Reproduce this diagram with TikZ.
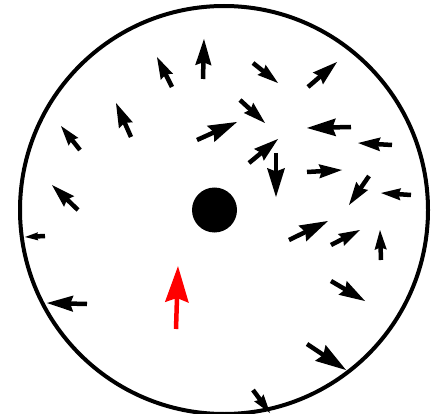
\documentclass[tikz,border=0pt]{standalone}
\usetikzlibrary{arrows.meta}

\begin{document}
\begin{tikzpicture}[
  x=1pt, y=-1pt,
  rim/.style={draw, line width=4pt},
  vec/.style={line width=4.5pt, black},
  probe/.style={line width=4.5pt, red, -{Stealth[length=36pt, width=23pt, inset=4pt]}}
]
\useasboundingbox (0,0) rectangle (436,414);

% boundary and obstacle
\draw[rim] (224,210) circle[radius=204];
\fill (214.5,210) circle[radius=22.5];

% field arrows: tail / tip, head drawn by hand
\foreach \xa/\ya/\xb/\yb in {
  203/79/204/39, 172/87/157/57, 131/137/116/103, 80/150/61/126,
  78/210/52/185, 197/140/237/122, 253/63/278/83, 308/87/337/62,
  240/100/265/123, 351/127/307/128, 392/145/358/143, 249/163/278/139,
  276/153/276/197, 307/172/342/170, 369/176/349/205, 411/195/381/193,
  45/236/25/237, 87/304/47/303, 289/240/328/221, 331/245/360/230,
  381/260/380/230, 331/281/365/301, 307/344/346/370, 253/390/270/413}
{
  \pgfmathsetmacro\vlen{veclen(\xb-\xa,\yb-\ya)}
  \pgfmathsetmacro\ux{(\xb-\xa)/\vlen}
  \pgfmathsetmacro\uy{(\yb-\ya)/\vlen}
  \pgfmathsetmacro\headl{0.66*\vlen}
  \pgfmathsetmacro\headw{0.31*\headl}
  \draw[vec] (\xa,\ya) -- ({\xb-0.85*\headl*(\ux)},{\yb-0.85*\headl*(\uy)});
  \fill (\xb,\yb)
    -- ({\xb-\headl*(\ux)+\headw*(\uy)},{\yb-\headl*(\uy)-\headw*(\ux)})
    -- ({\xb-0.88*\headl*(\ux)},{\yb-0.88*\headl*(\uy)})
    -- ({\xb-\headl*(\ux)-\headw*(\uy)},{\yb-\headl*(\uy)+\headw*(\ux)})
    -- cycle;
}

% red probe arrow
\coordinate (ptail) at (176,329);
\coordinate (ptip) at (178,266);
\draw[probe] (ptail) -- (ptip);
\end{tikzpicture}
\end{document}
